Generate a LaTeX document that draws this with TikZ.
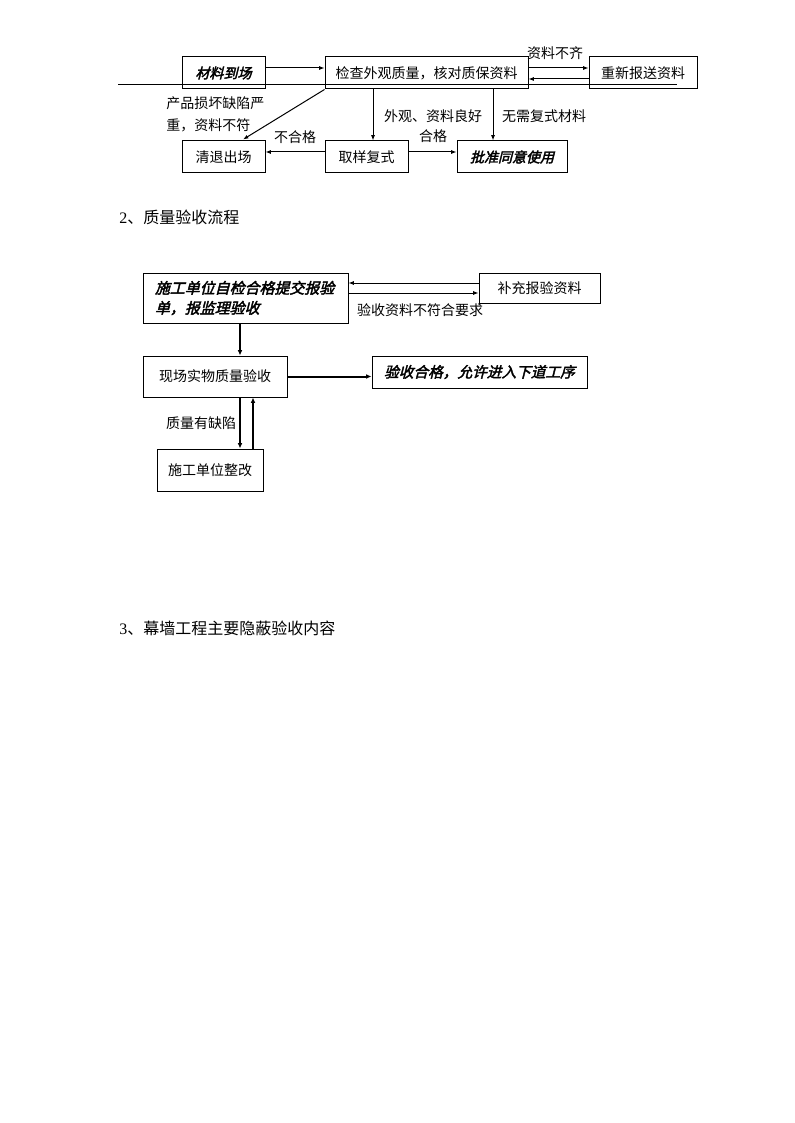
\documentclass[tikz,border=0pt]{standalone}
\usepackage{fontspec}
\setmainfont{Noto Sans CJK SC}
\newfontfamily\cjkbi[FakeSlant=0.25,FakeBold=2.5]{Noto Sans CJK SC}
\newfontfamily\digitfont{Liberation Serif}
\usetikzlibrary{arrows.meta,calc}
\begin{document}
\begin{tikzpicture}[x=0.75pt,y=-0.75pt,
 box/.style={draw,line width=0.75pt,inner sep=0pt,font=\fontsize{10.5}{13}\selectfont},
 sz/.style 2 args={minimum width=#1*0.75pt,minimum height=#2*0.75pt},
 bi/.style={font=\cjkbi\fontsize{10.5}{13}\selectfont},
 lbl/.style={inner sep=0pt,font=\fontsize{10.5}{13}\selectfont},
 head/.style={anchor=west,inner sep=0pt,font=\fontsize{12}{14}\selectfont},
 arr/.style={line width=0.75pt,-{Latex[length=4pt,width=3pt]}},
 tarr/.style={line width=1.5pt,-{Latex[length=4pt,width=3.5pt]}}]
\useasboundingbox (0,0) rectangle (794,1123);

% ---------- top flow ----------
\coordinate (r1) at (118,85);
\coordinate (r2) at (677,85);
\draw[line width=0.75pt] (r1) -- (r2);

\node[box,sz={83}{32},bi] (A) at (223.5,73) {材料到场};
\node[box,sz={203}{32}] (B) at (426.5,73) {检查外观质量，核对质保资料};
\node[box,sz={108}{32}] (C) at (643,73) {重新报送资料};
\node[box,sz={83}{32}] (D) at (223.5,157) {清退出场};
\node[box,sz={83}{32}] (E) at (366.5,157) {取样复式};
\node[box,sz={110}{32},bi] (F) at (512,157) {批准同意使用};

\path ($(A.east)+(0,-5)$) coordinate (a1);
\draw[arr] (a1) -- (a1 -| B.west);
\path ($(C.west)+(0,-5)$) coordinate (c1);
\draw[arr] (c1 -| B.east) -- (c1);
\path ($(C.west)+(0,6)$) coordinate (c2);
\draw[arr] (c2) -- (c2 -| B.east);
\draw[arr] (B.south west) -- ($(D.north)+(19.5,-1)$);
\path ($(E.north)+(6.5,0)$) coordinate (e1);
\draw[arr] (e1 |- B.south) -- (e1);
\path ($(F.north)+(-19,0)$) coordinate (f1);
\draw[arr] (f1 |- B.south) -- (f1);
\path ($(E.west)+(0,-5)$) coordinate (e2);
\draw[arr] (e2) -- (e2 -| D.east);
\path ($(E.east)+(0,-5)$) coordinate (e3);
\draw[arr] (e3) -- (e3 -| F.west);

\node[lbl] (t1) at (555,53) {资料不齐};
\node[lbl,align=left,anchor=west,font=\fontsize{10.5}{16.5}\selectfont] (t2) at (166,114) {产品损坏缺陷严\\重，资料不符};
\node[lbl] (t3) at (295,137) {不合格};
\node[lbl,align=center,font=\fontsize{10.5}{15.5}\selectfont] (t4) at (433,126) {外观、资料良好\\合格};
\node[lbl] (t5) at (544,116) {无需复式材料};

% ---------- heading 2 ----------
\node[head] (h2) at (119,217) {{\digitfont 2}、质量验收流程};

% ---------- middle flow ----------
\node[box,sz={205}{50},align=left,text width=135.75pt,inner xsep=9pt,
      font=\cjkbi\fontsize{11.2}{15}\selectfont] (G) at (245.5,298)
      {施工单位自检合格提交报验\\单，报监理验收};
\node[box,sz={121}{30}] (H) at (539.5,288) {补充报验资料};
\node[box,sz={144}{41}] (I) at (215,376.5) {现场实物质量验收};
\node[box,sz={215}{32},font=\cjkbi\fontsize{11}{13}\selectfont] (J) at (479.5,372) {验收合格，允许进入下道工序};
\node[box,sz={106}{42}] (K) at (210,470) {施工单位整改};

\path ($(H.west)+(0,-5)$) coordinate (hh1);
\draw[arr] (hh1) -- (hh1 -| G.east);
\path ($(H.west)+(0,5)$) coordinate (hh2);
\draw[arr] (hh2 -| G.east) -- (hh2);
\path ($(G.south)+(-5.5,0)$) coordinate (g1);
\draw[tarr] (g1) -- (g1 |- I.north);
\draw[tarr] (I.east) -- (I.east -| J.west);
\path ($(I.south)+(25,0)$) coordinate (i1);
\draw[tarr] (i1) -- (i1 |- K.north);
\path ($(I.south)+(38,0)$) coordinate (i2);
\draw[tarr] (i2 |- K.north) -- (i2);

\node[lbl] (t6) at (420,310) {验收资料不符合要求};
\node[lbl] (t7) at (201,423) {质量有缺陷};

% ---------- heading 3 ----------
\node[head] (h3) at (119,628) {{\digitfont 3}、幕墙工程主要隐蔽验收内容};
\end{tikzpicture}
\end{document}
